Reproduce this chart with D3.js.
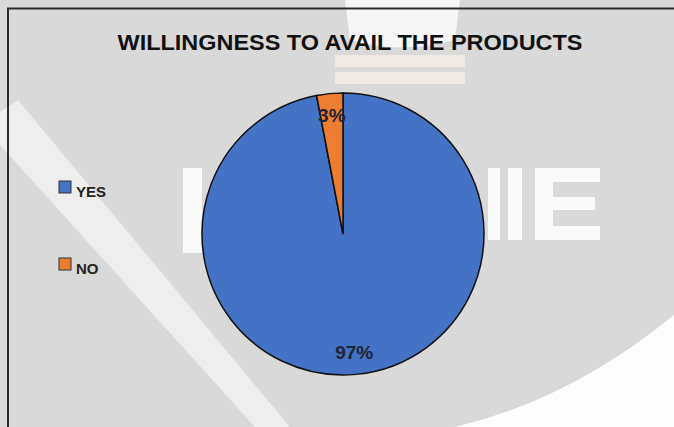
<!DOCTYPE html>
<html><head><meta charset="utf-8">
<script src="https://cdn.jsdelivr.net/npm/d3@7"></script>
<style>html,body{margin:0;padding:0;background:#fff;}svg{display:block;}</style>
</head><body>
<svg id="c" width="674" height="427"></svg>
<script>
const categories = ["YES", "NO"];
const values = [97, 3];
const labels = ["97%", "3%"];
const colors = ["#4472C4", "#ED7D31"];
const title = "WILLINGNESS TO AVAIL THE PRODUCTS";

const W = 674, H = 427;
const svg = d3.select("#c");

// background + faint watermark
svg.append("rect").attr("width", W).attr("height", H).attr("fill", "#d9d9d9");
const wm = svg.append("g").attr("fill", "#ffffff");
wm.append("path").attr("d", "M0,112 L18,100 L290,427 L255,427 L0,145 Z").attr("opacity", 0.55);
wm.append("path").attr("d", "M455,427 Q570,400 674,315 L674,427 Z").attr("opacity", 0.95);
wm.append("path").attr("d", "M345,0 L460,0 L455,40 Q400,55 350,40 Z").attr("opacity", 0.75);
wm.append("rect").attr("x", 335).attr("y", 55).attr("width", 130).attr("height", 12).attr("fill", "#f2e9e2").attr("opacity", 0.9);
wm.append("rect").attr("x", 335).attr("y", 72).attr("width", 130).attr("height", 12).attr("fill", "#f2e9e2").attr("opacity", 0.9);
wm.append("rect").attr("x", 183).attr("y", 168).attr("width", 19).attr("height", 85).attr("opacity", 0.85);
wm.append("rect").attr("x", 488).attr("y", 168).attr("width", 12).attr("height", 72).attr("opacity", 0.85);
wm.append("rect").attr("x", 508).attr("y", 168).attr("width", 14).attr("height", 72).attr("opacity", 0.85);
wm.append("path").attr("d", "M535,168 L600,168 L600,182 L553,182 L553,197 L595,197 L595,210 L553,210 L553,226 L600,226 L600,240 L535,240 Z").attr("opacity", 0.85);

// frame (cut at right/bottom)
svg.append("path").attr("d", "M8,427 L8,8.5 L674,8.5").attr("fill", "none").attr("stroke", "#2b2b2b").attr("stroke-width", 2);

// title
svg.append("text").attr("x", 350).attr("y", 50).attr("text-anchor", "middle")
  .attr("font-family", "Liberation Sans, Arial, sans-serif").attr("font-weight", "bold")
  .attr("font-size", 22).attr("fill", "#111")
  .attr("textLength", 465).attr("lengthAdjust", "spacingAndGlyphs")
  .text(title);

// pie
const cx = 343, cy = 234, R = 141;
const data = categories.map((c, i) => ({cat: c, val: values[i], label: labels[i], color: colors[i]}));
const pie = d3.pie().value(d => d.val).sort(null);
const arc = d3.arc().innerRadius(0).outerRadius(R);
const labelArc = d3.arc().innerRadius(119).outerRadius(119);
const g = svg.append("g").attr("transform", `translate(${cx},${cy})`);
const arcs = pie(data);
g.selectAll("path.slice").data(arcs).join("path").attr("class", "slice")
  .attr("d", arc).attr("fill", d => d.data.color)
  .attr("stroke", "#111").attr("stroke-width", 1.5);
g.selectAll("text.lbl").data(arcs).join("text").attr("class", "lbl")
  .attr("transform", d => `translate(${labelArc.centroid(d)})`)
  .attr("text-anchor", "middle").attr("dy", "0.36em")
  .attr("font-family", "Liberation Sans, Arial, sans-serif").attr("font-weight", "bold")
  .attr("font-size", 19).attr("fill", "#1e2435")
  .text(d => d.data.label);

// legend
const lg = svg.append("g");
const ly = d3.scalePoint().domain(categories).range([187, 264]);
categories.forEach((c, i) => {
  lg.append("rect").attr("x", 59).attr("y", ly(c) - 6).attr("width", 12).attr("height", 12)
    .attr("fill", colors[i]).attr("stroke", "#333").attr("stroke-width", 1);
  lg.append("text").attr("x", 76).attr("y", ly(c) + 10)
    .attr("font-family", "Liberation Sans, Arial, sans-serif").attr("font-weight", "bold")
    .attr("font-size", 15).attr("fill", "#222").text(c);
});
</script>
</body></html>
